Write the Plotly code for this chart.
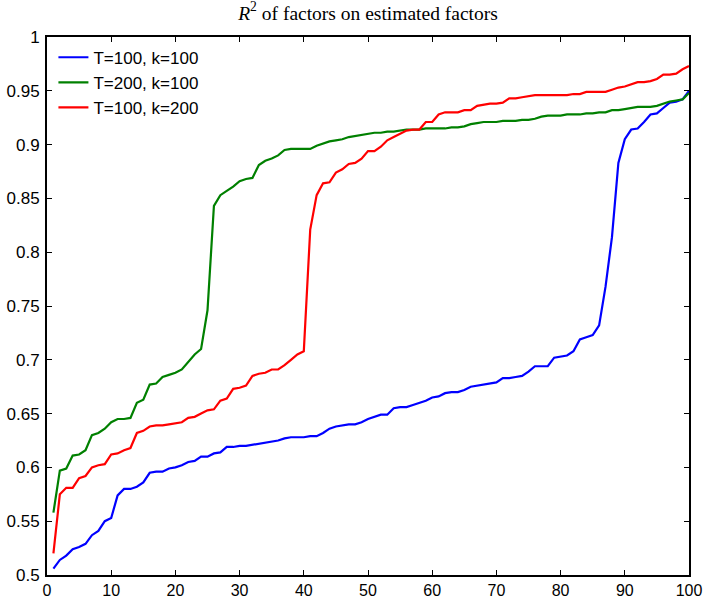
import plotly.graph_objects as go

# Sorted R^2 of each true factor regressed on the estimated factors
index = list(range(1, 101))

r2_T100_k100 = [
    0.506, 0.514, 0.518, 0.524, 0.526, 0.529, 0.537, 0.541, 0.550, 0.553,
    0.574, 0.580, 0.580, 0.582, 0.586, 0.595, 0.596, 0.596, 0.599, 0.600,
    0.602, 0.605, 0.606, 0.610, 0.610, 0.613, 0.614, 0.619, 0.619, 0.620,
    0.620, 0.621, 0.622, 0.623, 0.624, 0.625, 0.627, 0.628, 0.628, 0.628,
    0.629, 0.629, 0.632, 0.636, 0.638, 0.639, 0.640, 0.640, 0.642, 0.645,
    0.647, 0.649, 0.649, 0.655, 0.656, 0.656, 0.658, 0.660, 0.662, 0.665,
    0.666, 0.669, 0.670, 0.670, 0.672, 0.675, 0.676, 0.677, 0.678, 0.679,
    0.683, 0.683, 0.684, 0.685, 0.689, 0.694, 0.694, 0.694, 0.702, 0.703,
    0.704, 0.708, 0.719, 0.721, 0.723, 0.732, 0.768, 0.814, 0.883, 0.905,
    0.914, 0.915, 0.921, 0.928, 0.929, 0.934, 0.939, 0.940, 0.942, 0.950,
]

r2_T200_k100 = [
    0.558, 0.597, 0.599, 0.611, 0.612, 0.616, 0.630, 0.632, 0.636, 0.642,
    0.645, 0.645, 0.646, 0.660, 0.663, 0.677, 0.678, 0.684, 0.686, 0.688,
    0.691, 0.698, 0.705, 0.710, 0.746, 0.843, 0.853, 0.857, 0.861, 0.866,
    0.868, 0.869, 0.881, 0.885, 0.887, 0.890, 0.895, 0.896, 0.896, 0.896,
    0.896, 0.899, 0.901, 0.903, 0.904, 0.905, 0.907, 0.908, 0.909, 0.910,
    0.911, 0.911, 0.912, 0.912, 0.913, 0.914, 0.914, 0.914, 0.915, 0.915,
    0.915, 0.915, 0.916, 0.916, 0.917, 0.919, 0.920, 0.921, 0.921, 0.921,
    0.922, 0.922, 0.922, 0.923, 0.923, 0.924, 0.926, 0.927, 0.927, 0.927,
    0.928, 0.928, 0.928, 0.929, 0.929, 0.930, 0.930, 0.932, 0.932, 0.933,
    0.934, 0.935, 0.935, 0.935, 0.936, 0.938, 0.940, 0.941, 0.942, 0.948,
]

r2_T100_k200 = [
    0.520, 0.575, 0.581, 0.581, 0.590, 0.592, 0.600, 0.602, 0.603, 0.612,
    0.613, 0.616, 0.618, 0.632, 0.634, 0.638, 0.639, 0.639, 0.640, 0.641,
    0.642, 0.646, 0.647, 0.650, 0.653, 0.654, 0.662, 0.664, 0.673, 0.674,
    0.676, 0.685, 0.687, 0.688, 0.691, 0.691, 0.695, 0.700, 0.705, 0.708,
    0.821, 0.853, 0.864, 0.865, 0.874, 0.877, 0.882, 0.883, 0.887, 0.894,
    0.894, 0.898, 0.904, 0.907, 0.910, 0.913, 0.914, 0.914, 0.921, 0.921,
    0.928, 0.930, 0.930, 0.930, 0.932, 0.932, 0.936, 0.937, 0.938, 0.938,
    0.939, 0.943, 0.943, 0.944, 0.945, 0.946, 0.946, 0.946, 0.946, 0.946,
    0.946, 0.947, 0.947, 0.949, 0.949, 0.949, 0.949, 0.951, 0.953, 0.954,
    0.956, 0.958, 0.958, 0.959, 0.961, 0.965, 0.965, 0.966, 0.970, 0.973,
]

series_names = ["T=100, k=100", "T=200, k=100", "T=100, k=200"]
series_colors = ["#0000ff", "#008000", "#ff0000"]

x_ticks = list(range(0, 101, 10))
y_ticks = [0.5, 0.55, 0.6, 0.65, 0.7, 0.75, 0.8, 0.85, 0.9, 0.95, 1.0]
y_tick_text = ["0.5", "0.55", "0.6", "0.65", "0.7", "0.75", "0.8", "0.85", "0.9", "0.95", "1"]

fig = go.Figure()
for name, values, color in zip(series_names,
                               [r2_T100_k100, r2_T200_k100, r2_T100_k200],
                               series_colors):
    fig.add_trace(go.Scatter(
        x=index, y=values, mode="lines", name=name,
        line=dict(color=color, width=2.2),
    ))

axis_style = dict(
    showline=True, linecolor="black", linewidth=2, mirror="ticks",
    ticks="inside", ticklen=5, tickwidth=1, tickcolor="black",
    showgrid=False, zeroline=False, automargin=False,
)
sans = "Liberation Sans, Arial, sans-serif"

fig.update_layout(
    width=707, height=598,
    margin=dict(l=47, r=18, t=37, b=23, autoexpand=False),
    paper_bgcolor="white", plot_bgcolor="white",
    title=dict(
        text="<i>R</i><sup>2</sup> of factors on estimated factors",
        x=0.5, xanchor="center", xref="paper",
        y=0.99, yanchor="top",
        font=dict(family="Liberation Serif, Times New Roman, serif", size=19.5, color="black"),
    ),
    xaxis=dict(range=[0, 100], tickvals=x_ticks, ticklabelstandoff=0,
               tickfont=dict(family=sans, size=16, color="black"), **axis_style),
    yaxis=dict(range=[0.5, 1.0], tickvals=y_ticks, ticktext=y_tick_text,
               ticklabelstandoff=2,
               tickfont=dict(family=sans, size=17, color="black"), **axis_style),
    legend=dict(
        x=0.01, y=0.995, xanchor="left", yanchor="top",
        bgcolor="rgba(255,255,255,0)", borderwidth=0,
        font=dict(family=sans, size=17, color="black"),
        tracegroupgap=0,
    ),
)

fig.write_html("out.html")
